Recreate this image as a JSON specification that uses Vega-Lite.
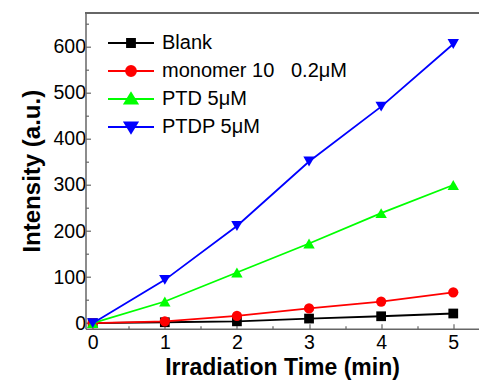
{
  "$schema": "https://vega.github.io/schema/vega-lite/v6.json",
  "width": 393,
  "height": 316,
  "autosize": "none",
  "padding": {"left": 85.5, "top": 12.7, "right": 0.5, "bottom": 51.3},
  "background": "white",
  "config": {"view": {"stroke": null},
    "legend": {"orient": "none", "legendX": 34.5, "legendY": 19.3, "padding": 0,
      "symbolSize": 400, "symbolOpacity": 1, "symbolStrokeWidth": 1.8, "rowPadding": 7, "labelOffset": 20,
      "labelFont": "Liberation Sans", "labelFontSize": 20, "labelColor": "black", "labelLimit": 400}},
  "data": {"values": [
    {"series": "Blank", "t": 0, "v": 0},
    {"series": "Blank", "t": 1, "v": 2},
    {"series": "Blank", "t": 2, "v": 4},
    {"series": "Blank", "t": 3, "v": 10},
    {"series": "Blank", "t": 4, "v": 15},
    {"series": "Blank", "t": 5, "v": 21},
    {"series": "monomer 10\u00a0\u00a0\u00a00.2μM", "t": 0, "v": 0},
    {"series": "monomer 10\u00a0\u00a0\u00a00.2μM", "t": 1, "v": 4},
    {"series": "monomer 10\u00a0\u00a0\u00a00.2μM", "t": 2, "v": 16},
    {"series": "monomer 10\u00a0\u00a0\u00a00.2μM", "t": 3, "v": 32},
    {"series": "monomer 10\u00a0\u00a0\u00a00.2μM", "t": 4, "v": 47},
    {"series": "monomer 10\u00a0\u00a0\u00a00.2μM", "t": 5, "v": 67},
    {"series": "PTD 5μM", "t": 0, "v": 0},
    {"series": "PTD 5μM", "t": 1, "v": 47},
    {"series": "PTD 5μM", "t": 2, "v": 110},
    {"series": "PTD 5μM", "t": 3, "v": 173},
    {"series": "PTD 5μM", "t": 4, "v": 239},
    {"series": "PTD 5μM", "t": 5, "v": 300},
    {"series": "PTDP 5μM", "t": 0, "v": 0},
    {"series": "PTDP 5μM", "t": 1, "v": 94},
    {"series": "PTDP 5μM", "t": 2, "v": 211},
    {"series": "PTDP 5μM", "t": 3, "v": 351},
    {"series": "PTDP 5μM", "t": 4, "v": 470},
    {"series": "PTDP 5μM", "t": 5, "v": 606}
  ]},
  "encoding": {
    "x": {"field": "t", "type": "quantitative", "scale": {"domain": [-0.1, 5.35], "nice": false, "zero": false},
      "axis": {"values": [0, 0.5, 1, 1.5, 2, 2.5, 3, 3.5, 4, 4.5, 5], "labelExpr": "datum.value % 1 === 0 ? format(datum.value, 'd') : ''",
        "grid": false, "domainColor": "#666666", "domainWidth": 1.5, "tickColor": "#666666", "tickWidth": 1.2,
        "tickSize": {"condition": {"test": "datum.value % 1 !== 0", "value": -3}, "value": -5},
        "labelFont": "Liberation Sans", "labelFontSize": 19.5, "labelColor": "black", "labelPadding": 10,
        "title": "Irradiation Time (min)", "titleFont": "Liberation Sans", "titleFontSize": 23, "titleFontWeight": "bold", "titleColor": "black", "titlePadding": 4}},
    "y": {"field": "v", "type": "quantitative", "scale": {"domain": [-12, 674], "nice": false, "zero": false},
      "axis": {"values": [0, 50, 100, 150, 200, 250, 300, 350, 400, 450, 500, 550, 600, 650], "labelExpr": "datum.value % 100 === 0 ? format(datum.value, 'd') : ''",
        "grid": false, "domainColor": "#666666", "domainWidth": 1.5, "tickColor": "#666666", "tickWidth": 1.2,
        "tickSize": {"condition": {"test": "datum.value % 100 !== 0", "value": -3}, "value": -5},
        "labelFont": "Liberation Sans", "labelFontSize": 19.5, "labelColor": "black", "labelPadding": 5,
        "title": "Intensity (a.u.)", "titleFont": "Liberation Sans", "titleFontSize": 24, "titleFontWeight": "bold", "titleColor": "black", "titlePadding": 8}}
  },
  "layer": [
    {
      "mark": {"type": "rule", "color": "#666666", "strokeWidth": 1.5},
      "encoding": {"y": {"datum": 674}, "x": {"datum": -0.1}, "x2": {"datum": 5.35}}
    },
    {
      "transform": [{"filter": "datum.series === 'Blank'"}],
      "layer": [
        {"mark": {"type": "line", "strokeWidth": 1.8, "color": "#000000"}},
        {"mark": {"type": "point", "filled": true, "opacity": 1, "size": 95, "strokeWidth": 0, "shape": "square", "color": "#000000"}}
      ]
    },
    {
      "transform": [{"filter": "datum.series === 'monomer 10\u00a0\u00a0\u00a00.2μM'"}],
      "layer": [
        {"mark": {"type": "line", "strokeWidth": 1.8, "color": "#ff0000"}},
        {"mark": {"type": "point", "filled": true, "opacity": 1, "size": 105, "strokeWidth": 0, "shape": "circle", "color": "#ff0000"}}
      ]
    },
    {
      "transform": [{"filter": "datum.series === 'PTD 5μM'"}],
      "layer": [
        {"mark": {"type": "line", "strokeWidth": 1.8, "color": "#00ff00"}},
        {"mark": {"type": "point", "filled": true, "opacity": 1, "size": 130, "strokeWidth": 0, "shape": "triangle-up", "color": "#00ff00"}}
      ]
    },
    {
      "transform": [{"filter": "datum.series === 'PTDP 5μM'"}],
      "layer": [
        {"mark": {"type": "line", "strokeWidth": 1.8, "color": "#0000ff"}},
        {"mark": {"type": "point", "filled": true, "opacity": 1, "size": 130, "strokeWidth": 0, "shape": "triangle-down", "color": "#0000ff"}}
      ]
    },
    {
      "mark": {"type": "point", "filled": true, "opacity": 0, "size": 10},
      "encoding": {
        "color": {"field": "series", "type": "nominal",
          "scale": {"domain": ["Blank", "monomer 10\u00a0\u00a0\u00a00.2μM", "PTD 5μM", "PTDP 5μM"], "range": ["#000000", "#ff0000", "#00ff00", "#0000ff"]},
          "legend": {"title": null,
            "encode": {"symbols": {"update": {
              "stroke": {"scale": "color", "field": "value"},
              "strokeWidth": {"value": 1.8},
              "opacity": {"value": 1}}}}}},
        "shape": {"field": "series", "type": "nominal",
          "scale": {"domain": ["Blank", "monomer 10\u00a0\u00a0\u00a00.2μM", "PTD 5μM", "PTDP 5μM"],
            "range": [
              "M-2.3,0H2.3M-0.4,-0.4H0.4V0.4H-0.4Z",
              "M-2.3,0H2.3M-0.5,0A0.5,0.5,0,1,0,0.5,0A0.5,0.5,0,1,0,-0.5,0Z",
              "M-2.3,0H2.3M0,-0.6L0.65,0.45L-0.65,0.45Z",
              "M-2.3,0H2.3M0,0.6L0.65,-0.45L-0.65,-0.45Z"]},
          "legend": {"title": null,
            "encode": {"symbols": {"update": {
              "stroke": {"scale": "color", "field": "value"},
              "strokeWidth": {"value": 1.8},
              "opacity": {"value": 1}}}}}}
      }
    }
  ]
}
